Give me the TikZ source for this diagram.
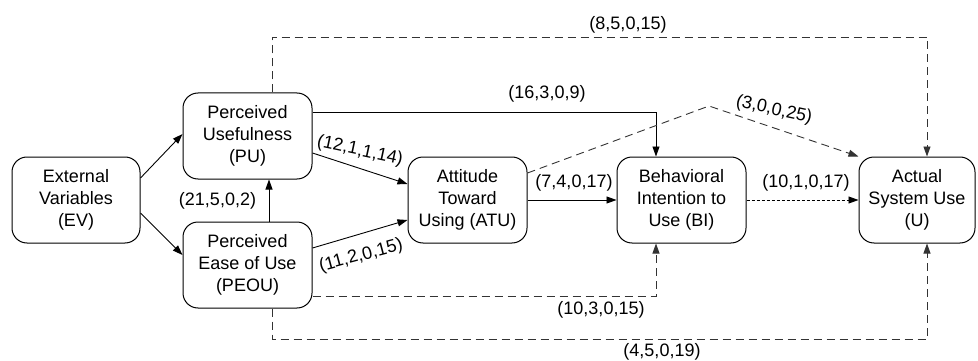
\documentclass[tikz,border=0pt]{standalone}
\usepackage{fontspec}
\setmainfont{Liberation Sans}
\usetikzlibrary{arrows.meta}
\begin{document}
\begin{tikzpicture}[x=1pt,y=-1pt,
  box/.style={draw, line width=1pt, rounded corners=15pt, align=center,
    inner sep=0pt, minimum height=86pt,
    font=\fontsize{18}{22}\selectfont},
  lbl/.style={inner sep=0pt, font=\fontsize{18}{22}\selectfont},
  arr/.style={line width=0.9pt, -{Triangle[length=10pt,width=7pt]}},
  dsh/.style={dash pattern=on 8pt off 5pt, draw=black!80},
  dtt/.style={dash pattern=on 3pt off 2pt}]
\useasboundingbox (0,0) rectangle (978,361);

% constructs
\node[box, minimum width=128pt] (EV)   at (76,200)    {External\\Variables\\(EV)};
\node[box, minimum width=129pt] (PU)   at (247.5,136) {Perceived\\Usefulness\\(PU)};
\node[box, minimum width=129pt] (PEOU) at (247.5,265) {Perceived\\Ease of Use\\(PEOU)};
\node[box, minimum width=119pt] (ATU)  at (467.5,200) {Attitude\\Toward\\Using (ATU)};
\node[box, minimum width=129pt] (BI)   at (681.5,200) {Behavioral\\Intention to\\Use (BI)};
\node[box, minimum width=116pt] (U)    at (917,200)   {Actual\\System Use\\(U)};

% bend points of the routed links
\coordinate (topY) at (0,37);
\coordinate (botY) at (0,339);
\coordinate (peak) at (709,106);
\coordinate (puT)  at ([xshift=24.5pt]PU.north);
\coordinate (peB)  at ([xshift=24.5pt]PEOU.south);
\coordinate (uT)   at ([xshift=10pt]U.north);
\coordinate (uB)   at ([xshift=10pt]U.south);
\coordinate (biT)  at ([xshift=-25.5pt]BI.north);
\coordinate (biB)  at ([xshift=-25.5pt]BI.south);

% solid links
\draw[arr] ([yshift=22pt]EV.east) -- ([yshift=2pt]PU.west);
\draw[arr] ([yshift=-13pt]EV.east) -- ([yshift=10pt]PEOU.west);
\draw[arr] ([xshift=21.5pt]PEOU.north) -- ([xshift=21.5pt]PU.south);
\draw[arr] ([yshift=-17pt]PU.east) -- ([yshift=16pt]ATU.west);
\draw[arr] ([yshift=17pt]PEOU.east) -- ([yshift=-20pt]ATU.west);
\draw[arr] ([yshift=24pt]PU.east) -| (biT);
\draw[arr] (ATU.east) -- (BI.west);

% dashed links
\draw[arr, dsh] (puT) |- (uT |- topY) -- (uT);
\draw[arr, dsh] ([yshift=27pt]ATU.east) -- (peak) -- (U.north west);
\draw[arr, dsh] ([yshift=-31pt]PEOU.east) -| (biB);
\draw[arr, dsh] (peB) |- (uB |- botY) -- (uB);
\draw[arr, dtt] (BI.east) -- (U.west);

% path coefficients
\node[lbl] (l1)  at (217.5,201) {(21,5,0,2)};
\node[lbl, rotate=-12] (l2) at (360,151) {(12,1,1,14)};
\node[lbl, rotate=15]  (l3) at (361,256) {(11,2,0,15)};
\node[lbl] (l4)  at (547,94)  {(16,3,0,9)};
\node[lbl] (l5)  at (628,25)  {(8,5,0,15)};
\node[lbl, rotate=-12] (l6) at (774,110) {(3,0,0,25)};
\node[lbl] (l7)  at (574,183) {(7,4,0,17)};
\node[lbl] (l8)  at (806,183) {(10,1,0,17)};
\node[lbl] (l9)  at (601,310) {(10,3,0,15)};
\node[lbl] (l10) at (662,352) {(4,5,0,19)};
\end{tikzpicture}
\end{document}
